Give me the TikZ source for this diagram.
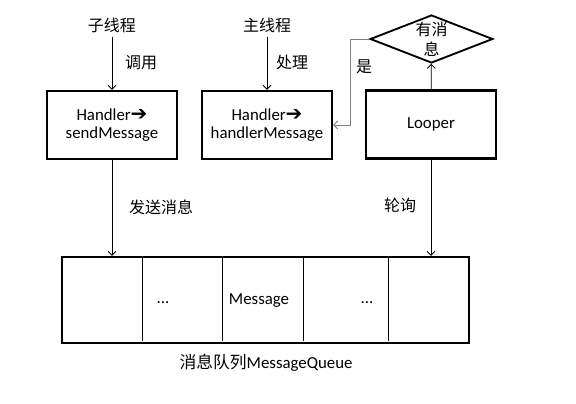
\documentclass[tikz,border=0pt]{standalone}
\usepackage{fontspec}
\setmainfont{Carlito}
\newfontfamily\cjk{Noto Sans CJK SC}
\newfontfamily\dingfont{DejaVu Sans}
\usetikzlibrary{shapes.geometric,arrows.meta}
\newcommand{\hto}{Handler{\dingfont\fontsize{15}{14}\selectfont ➔}}

\begin{document}
\begin{tikzpicture}[x=0.75pt,y=-0.75pt,font=\fontsize{12.6}{14}\selectfont,
  box/.style={draw,line width=1.7pt,minimum width=97.5pt,minimum height=51pt,align=center,inner sep=0pt},
  flow/.style={-{Straight Barb[length=3pt,width=6pt]},line width=0.6pt},
  zh/.style={font=\fontsize{12}{15}\selectfont\cjk}]
\useasboundingbox (0,0) rectangle (576,404);
\node[box] (h1) at (112,125) {\hto\\sendMessage};
\node[box] (h2) at (267,125) {\hto\\handlerMessage};
\node[box] (loop) at (431,124.5) {Looper};
\node[draw,diamond,line width=1.4pt,minimum width=92pt,minimum height=36pt,inner sep=0pt,label={[zh,align=center]center:有消\\息}] (dec) at (431.5,39) {};
\node[zh] (sub) at (112,25) {子线程}; \draw[flow] (sub) -- (h1);
\node[zh] (main) at (267,25) {主线程}; \draw[flow] (main) -- (h2);
\node[zh] (call) at (141,63) {调用}; \node[zh] (proc) at (292,62) {处理};
\draw[flow] (loop) -- (dec);
\draw[flow,gray] (dec.west) -- ++(-19,0) |- (h2.east); \node[zh] (yes) at (364,67) {是};
\node[draw,line width=1.7pt,minimum width=305.25pt,minimum height=64.5pt,inner sep=0pt] (queue) at (265.5,300) {};
\foreach \x in {142,222,303,388} \draw[line width=0.75pt] (\x,257) -- (\x,341);
\node (dots1) at (163,303) {...}; \node (msg) at (259,301) {Message}; \node (dots2) at (367,303) {...};
\draw[flow] (h1) -- (h1 |- queue.north); \draw[flow] (loop) -- (loop |- queue.north);
\node[zh] (send) at (161,207) {发送消息}; \node[zh] (poll) at (400,205) {轮询};
\node (cap) at (266,363) {{\cjk 消息队列}MessageQueue};
\end{tikzpicture}
\end{document}
